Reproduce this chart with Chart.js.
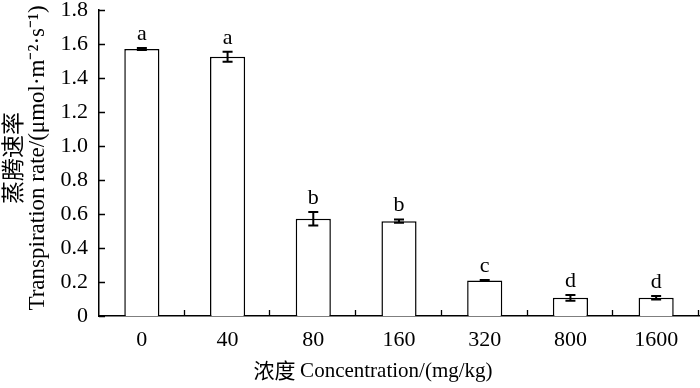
<!DOCTYPE html>
<html lang="en">
<head>
    <meta charset="UTF-8">
    <title>Transpiration rate</title>
    <script src="https://cdn.jsdelivr.net/npm/chart.js"></script>
    <style>
        html, body { margin: 0; padding: 0; background: #fff; }
        #wrap { width: 700px; height: 388px; position: relative; }
    </style>
</head>
<body>
<div id="wrap"><canvas id="chart_rate"></canvas></div>

<script>
// Data
const concentrations = ['0', '40', '80', '160', '320', '800', '1600'];
const transpiration = [1.57, 1.525, 0.572, 0.558, 0.209, 0.107, 0.107];
const errors = [0.006, 0.03, 0.04, 0.01, 0.003, 0.017, 0.01];
const letters = ['a', 'a', 'b', 'b', 'c', 'd', 'd'];
const yTicks = [0, 0.2, 0.4, 0.6, 0.8, 1.0, 1.2, 1.4, 1.6, 1.8];

const serif = '"Liberation Serif", "Times New Roman", serif';
const cjk = '"Noto Sans CJK SC", sans-serif';

// Error bars, significance letters, inward tick marks and axis titles
const annotate = {
    id: 'annotate',
    afterDatasetsDraw(chart) {
        const ctx = chart.ctx;
        const x = chart.scales.x, y = chart.scales.y;
        const area = chart.chartArea;
        ctx.save();
        ctx.strokeStyle = '#000';
        ctx.fillStyle = '#000';

        // error bars + letters
        ctx.lineWidth = 2;
        transpiration.forEach((v, i) => {
            const px = x.getPixelForValue(i);
            const top = y.getPixelForValue(v + errors[i]);
            const bot = y.getPixelForValue(v - errors[i]);
            ctx.beginPath();
            ctx.moveTo(px, top); ctx.lineTo(px, bot);
            ctx.moveTo(px - 5, top); ctx.lineTo(px + 5, top);
            ctx.moveTo(px - 5, bot); ctx.lineTo(px + 5, bot);
            ctx.stroke();

            ctx.font = '22px ' + serif;
            ctx.textAlign = 'center';
            ctx.textBaseline = 'alphabetic';
            ctx.fillText(letters[i], px, top - 8);
        });

        // tick marks pointing into the plot
        ctx.lineWidth = 1.3;
        ctx.beginPath();
        yTicks.forEach(t => {
            const py = Math.round(y.getPixelForValue(t)) + 0.5;
            ctx.moveTo(area.left, py); ctx.lineTo(area.left + 6, py);
        });
        const step = x.getPixelForValue(1) - x.getPixelForValue(0);
        for (let i = 0; i < concentrations.length; i++) {
            const px = Math.round(x.getPixelForValue(i) + step / 2) - 0.5;
            ctx.moveTo(px, area.bottom); ctx.lineTo(px, area.bottom - 6);
        }
        ctx.stroke();

        // x axis title
        ctx.textBaseline = 'middle';
        ctx.textAlign = 'left';
        const xt1 = '浓度 ', xt2 = 'Concentration/(mg/kg)';
        ctx.font = '21px ' + cjk;
        const w1 = ctx.measureText(xt1).width;
        ctx.font = '21px ' + serif;
        const w2 = ctx.measureText(xt2).width;
        const sx = 373 - (w1 + w2) / 2;
        ctx.font = '21px ' + cjk;
        ctx.fillText(xt1, sx, 370);
        ctx.font = '21px ' + serif;
        ctx.fillText(xt2, sx + w1, 371);

        // y axis title, two rotated lines
        ctx.textAlign = 'center';
        ctx.save();
        ctx.translate(12, 158);
        ctx.rotate(-Math.PI / 2);
        ctx.font = '23px ' + cjk;
        ctx.fillText('蒸腾速率', 0, 0);
        ctx.restore();
        ctx.save();
        ctx.translate(38, 158);
        ctx.rotate(-Math.PI / 2);
        ctx.font = '23px ' + serif;
        ctx.fillText('Transpiration rate/(μmol·m⁻²·s⁻¹)', 0, 0);
        ctx.restore();

        ctx.restore();
    }
};

const chartRate = new Chart(document.getElementById('chart_rate').getContext('2d'), {
    type: 'bar',
    data: {
        labels: concentrations,
        datasets: [{
            data: transpiration,
            backgroundColor: '#fff',
            borderColor: '#000',
            borderWidth: 1.5,
            barPercentage: 0.41,
            categoryPercentage: 1.0
        }]
    },
    options: {
        responsive: true,
        maintainAspectRatio: false,
        animation: false,
        layout: { padding: { top: 10, right: 1, left: 0, bottom: 0 } },
        plugins: { legend: { display: false }, tooltip: { enabled: false } },
        scales: {
            x: {
                grid: { display: false, drawTicks: false },
                border: { color: '#000', width: 1.5 },
                ticks: { color: '#000', font: { family: serif, size: 22 }, padding: 11, maxRotation: 0 },
                afterFit: s => { s.height = 72; s.paddingLeft = 0; s.paddingRight = 0; }
            },
            y: {
                min: 0, max: 1.8,
                grid: { display: false, drawTicks: false },
                border: { color: '#000', width: 1.5 },
                afterBuildTicks: s => { s.ticks = yTicks.map(v => ({ value: v })); },
                ticks: {
                    color: '#000',
                    font: { family: serif, size: 22 },
                    padding: 11,
                    callback: v => v === 0 ? '0' : v.toFixed(1)
                },
                afterFit: s => { s.width = 99; s.paddingTop = 0; s.paddingBottom = 0; }
            }
        }
    },
    plugins: [annotate]
});
</script>
</body>
</html>
